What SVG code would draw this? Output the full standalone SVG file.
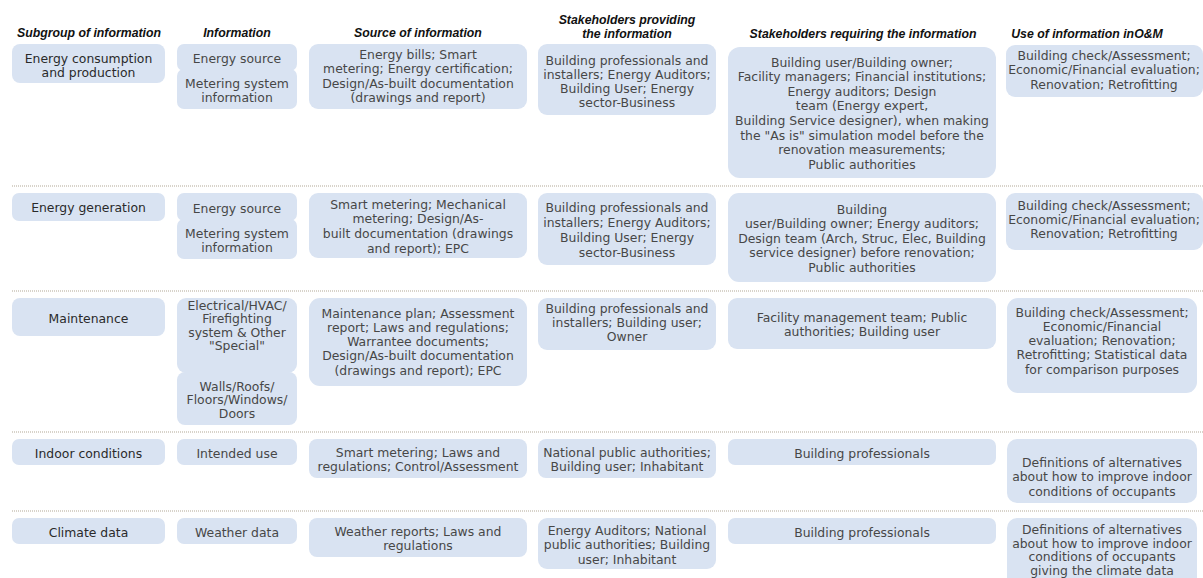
<svg xmlns="http://www.w3.org/2000/svg" width="1203" height="578" viewBox="0 0 1203 578">
<style>
.hd{font-family:"Liberation Sans",Arial,sans-serif;font-size:12.3px;font-weight:bold;font-style:italic;fill:#111;text-anchor:middle}
.bx{fill:#d9e3f2}
.t{font-family:"DejaVu Sans",Verdana,sans-serif;font-size:12.4px;fill:#474747;text-anchor:middle}
.t1{font-family:"DejaVu Sans",Verdana,sans-serif;font-size:12.4px;fill:#2a2a2a;text-anchor:middle}
.sep{stroke:#d8d3ca;stroke-width:2;stroke-dasharray:1 1;fill:none}
</style>
<rect width="1203" height="578" fill="#ffffff"/>
<g id="headers">
<text class="hd" x="89" y="36.5">Subgroup of information</text>
<text class="hd" x="237" y="36.5">Information</text>
<text class="hd" x="418" y="36.5">Source of information</text>
<text class="hd" x="627" y="24">Stakeholders providing</text>
<text class="hd" x="627" y="37.5">the information</text>
<text class="hd" x="863" y="37.5">Stakeholders requiring the information</text>
<text class="hd" x="1087" y="37.5">Use of information inO&amp;M</text>
</g>
<g id="separators">
<line class="sep" x1="12" y1="186" x2="1203" y2="186"/>
<line class="sep" x1="12" y1="291" x2="1203" y2="291"/>
<line class="sep" x1="12" y1="432" x2="1203" y2="432"/>
<line class="sep" x1="12" y1="511" x2="1203" y2="511"/>
</g>
<!-- Row 1 -->
<g id="r1-subgroup"><rect class="bx" x="12" y="44" width="153" height="39" rx="8"/>
<text class="t1" x="88.5" y="62.5">Energy consumption<tspan x="88.5" dy="14.3">and production</tspan></text></g>
<g id="r1-info-a"><rect class="bx" x="177" y="44" width="120" height="27" rx="7"/>
<text class="t" x="237" y="63">Energy source</text></g>
<g id="r1-info-b"><rect class="bx" x="177" y="69" width="120" height="40" rx="7"/>
<text class="t" x="237" y="88">Metering system<tspan x="237" dy="14.3">information</tspan></text></g>
<g id="r1-source"><rect class="bx" x="309" y="44" width="218" height="65" rx="9"/>
<text class="t" x="418" y="59">Energy bills; Smart<tspan x="418" dy="14.3">metering; Energy certification;</tspan><tspan x="418" dy="14.3">Design/As-built documentation</tspan><tspan x="418" dy="14.3">(drawings and report)</tspan></text></g>
<g id="r1-providing"><rect class="bx" x="538" y="44" width="178" height="71" rx="9"/>
<text class="t" x="627" y="64.5">Building professionals and<tspan x="627" dy="14.3">installers; Energy Auditors;</tspan><tspan x="627" dy="14.3">Building User; Energy</tspan><tspan x="627" dy="14.3">sector-Business</tspan></text></g>
<g id="r1-requiring"><rect class="bx" x="728" y="47" width="268" height="131" rx="12"/>
<text class="t" x="862" y="66.5">Building user/Building owner;<tspan x="862" dy="14.6">Facility managers; Financial institutions;</tspan><tspan x="862" dy="14.6">Energy auditors; Design</tspan><tspan x="862" dy="14.6">team (Energy expert,</tspan><tspan x="862" dy="14.6">Building Service designer), when making</tspan><tspan x="862" dy="14.6">the "As is" simulation model before the</tspan><tspan x="862" dy="14.6">renovation measurements;</tspan><tspan x="862" dy="14.6">Public authorities</tspan></text></g>
<g id="r1-use"><rect class="bx" x="1006" y="45" width="197" height="52" rx="9"/>
<text class="t" x="1104" y="59.5">Building check/Assessment;<tspan x="1104" dy="14.5">Economic/Financial evaluation;</tspan><tspan x="1104" dy="14.5">Renovation; Retrofitting</tspan></text></g>
<!-- Row 2 -->
<g id="r2-subgroup"><rect class="bx" x="12" y="193" width="153" height="28" rx="7"/>
<text class="t1" x="88.5" y="211.5">Energy generation</text></g>
<g id="r2-info-a"><rect class="bx" x="177" y="193" width="120" height="28" rx="7"/>
<text class="t" x="237" y="212.5">Energy source</text></g>
<g id="r2-info-b"><rect class="bx" x="177" y="219" width="120" height="40" rx="7"/>
<text class="t" x="237" y="237.5">Metering system<tspan x="237" dy="14.5">information</tspan></text></g>
<g id="r2-source"><rect class="bx" x="309" y="193" width="218" height="65" rx="9"/>
<text class="t" x="418" y="208.5">Smart metering; Mechanical<tspan x="418" dy="14.8">metering; Design/As-</tspan><tspan x="418" dy="14.8">built documentation (drawings</tspan><tspan x="418" dy="14.8">and report); EPC</tspan></text></g>
<g id="r2-providing"><rect class="bx" x="538" y="193" width="178" height="72" rx="9"/>
<text class="t" x="627" y="211.5">Building professionals and<tspan x="627" dy="15">installers; Energy Auditors;</tspan><tspan x="627" dy="15">Building User; Energy</tspan><tspan x="627" dy="15">sector-Business</tspan></text></g>
<g id="r2-requiring"><rect class="bx" x="728" y="193" width="268" height="89" rx="11"/>
<text class="t" x="862" y="213.5">Building<tspan x="862" dy="14.5">user/Building owner; Energy auditors;</tspan><tspan x="862" dy="14.5">Design team (Arch, Struc, Elec, Building</tspan><tspan x="862" dy="14.5">service designer) before renovation;</tspan><tspan x="862" dy="14.5">Public authorities</tspan></text></g>
<g id="r2-use"><rect class="bx" x="1006" y="193" width="197" height="57" rx="9"/>
<text class="t" x="1104" y="209.5">Building check/Assessment;<tspan x="1104" dy="14">Economic/Financial evaluation;</tspan><tspan x="1104" dy="14">Renovation; Retrofitting</tspan></text></g>
<!-- Row 3 -->
<g id="r3-subgroup"><rect class="bx" x="12" y="298" width="153" height="38" rx="8"/>
<text class="t1" x="88.5" y="322.5">Maintenance</text></g>
<g id="r3-info-a"><rect class="bx" x="177" y="298" width="120" height="75" rx="9"/>
<text class="t" x="237" y="309.5">Electrical/HVAC/<tspan x="237" dy="13.6">Firefighting</tspan><tspan x="237" dy="13.6">system &amp; Other</tspan><tspan x="237" dy="13.6">"Special"</tspan></text></g>
<g id="r3-info-b"><rect class="bx" x="177" y="372" width="120" height="53" rx="8"/>
<text class="t" x="237" y="390.5">Walls/Roofs/<tspan x="237" dy="13.6">Floors/Windows/</tspan><tspan x="237" dy="13.6">Doors</tspan></text></g>
<g id="r3-source"><rect class="bx" x="309" y="298" width="218" height="88" rx="11"/>
<text class="t" x="418" y="317.5">Maintenance plan; Assessment<tspan x="418" dy="14.3">report; Laws and regulations;</tspan><tspan x="418" dy="14.3">Warrantee documents;</tspan><tspan x="418" dy="14.3">Design/As-built documentation</tspan><tspan x="418" dy="14.3">(drawings and report); EPC</tspan></text></g>
<g id="r3-providing"><rect class="bx" x="538" y="298" width="178" height="52" rx="9"/>
<text class="t" x="627" y="312.5">Building professionals and<tspan x="627" dy="14">installers; Building user;</tspan><tspan x="627" dy="14">Owner</tspan></text></g>
<g id="r3-requiring"><rect class="bx" x="728" y="298" width="268" height="51" rx="9"/>
<text class="t" x="862" y="321.5">Facility management team; Public<tspan x="862" dy="14">authorities; Building user</tspan></text></g>
<g id="r3-use"><rect class="bx" x="1007" y="298" width="190" height="95" rx="11"/>
<text class="t" x="1102" y="316.5">Building check/Assessment;<tspan x="1102" dy="14.3">Economic/Financial</tspan><tspan x="1102" dy="14.3">evaluation; Renovation;</tspan><tspan x="1102" dy="14.3">Retrofitting; Statistical data</tspan><tspan x="1102" dy="14.3">for comparison purposes</tspan></text></g>
<!-- Row 4 -->
<g id="r4-subgroup"><rect class="bx" x="12" y="439" width="153" height="26" rx="7"/>
<text class="t1" x="88.5" y="457.5">Indoor conditions</text></g>
<g id="r4-info"><rect class="bx" x="177" y="439" width="120" height="26" rx="7"/>
<text class="t" x="237" y="457.5">Intended use</text></g>
<g id="r4-source"><rect class="bx" x="309" y="439" width="218" height="39" rx="8"/>
<text class="t" x="418" y="456.5">Smart metering; Laws and<tspan x="418" dy="14.3">regulations; Control/Assessment</tspan></text></g>
<g id="r4-providing"><rect class="bx" x="538" y="439" width="178" height="39" rx="8"/>
<text class="t" x="627" y="456.5">National public authorities;<tspan x="627" dy="14.3">Building user; Inhabitant</tspan></text></g>
<g id="r4-requiring"><rect class="bx" x="728" y="439" width="268" height="26" rx="7"/>
<text class="t" x="862" y="457.5">Building professionals</text></g>
<g id="r4-use"><rect class="bx" x="1007" y="439" width="190" height="64" rx="10"/>
<text class="t" x="1102" y="466.5">Definitions of alternatives<tspan x="1102" dy="14.5">about how to improve indoor</tspan><tspan x="1102" dy="14.5">conditions of occupants</tspan></text></g>
<!-- Row 5 -->
<g id="r5-subgroup"><rect class="bx" x="12" y="518" width="153" height="26" rx="7"/>
<text class="t1" x="88.5" y="536.5">Climate data</text></g>
<g id="r5-info"><rect class="bx" x="177" y="518" width="120" height="26" rx="7"/>
<text class="t" x="237" y="536.5">Weather data</text></g>
<g id="r5-source"><rect class="bx" x="309" y="518" width="218" height="39" rx="8"/>
<text class="t" x="418" y="535.5">Weather reports; Laws and<tspan x="418" dy="14.3">regulations</tspan></text></g>
<g id="r5-providing"><rect class="bx" x="538" y="518" width="178" height="51" rx="9"/>
<text class="t" x="627" y="534.5">Energy Auditors; National<tspan x="627" dy="14.5">public authorities; Building</tspan><tspan x="627" dy="14.5">user; Inhabitant</tspan></text></g>
<g id="r5-requiring"><rect class="bx" x="728" y="518" width="268" height="26" rx="7"/>
<text class="t" x="862" y="536.5">Building professionals</text></g>
<g id="r5-use"><rect class="bx" x="1007" y="518" width="190" height="72" rx="10"/>
<text class="t" x="1102" y="534">Definitions of alternatives<tspan x="1102" dy="13.5">about how to improve indoor</tspan><tspan x="1102" dy="13.5">conditions of occupants</tspan><tspan x="1102" dy="13.5">giving the climate data</tspan></text></g>
</svg>
